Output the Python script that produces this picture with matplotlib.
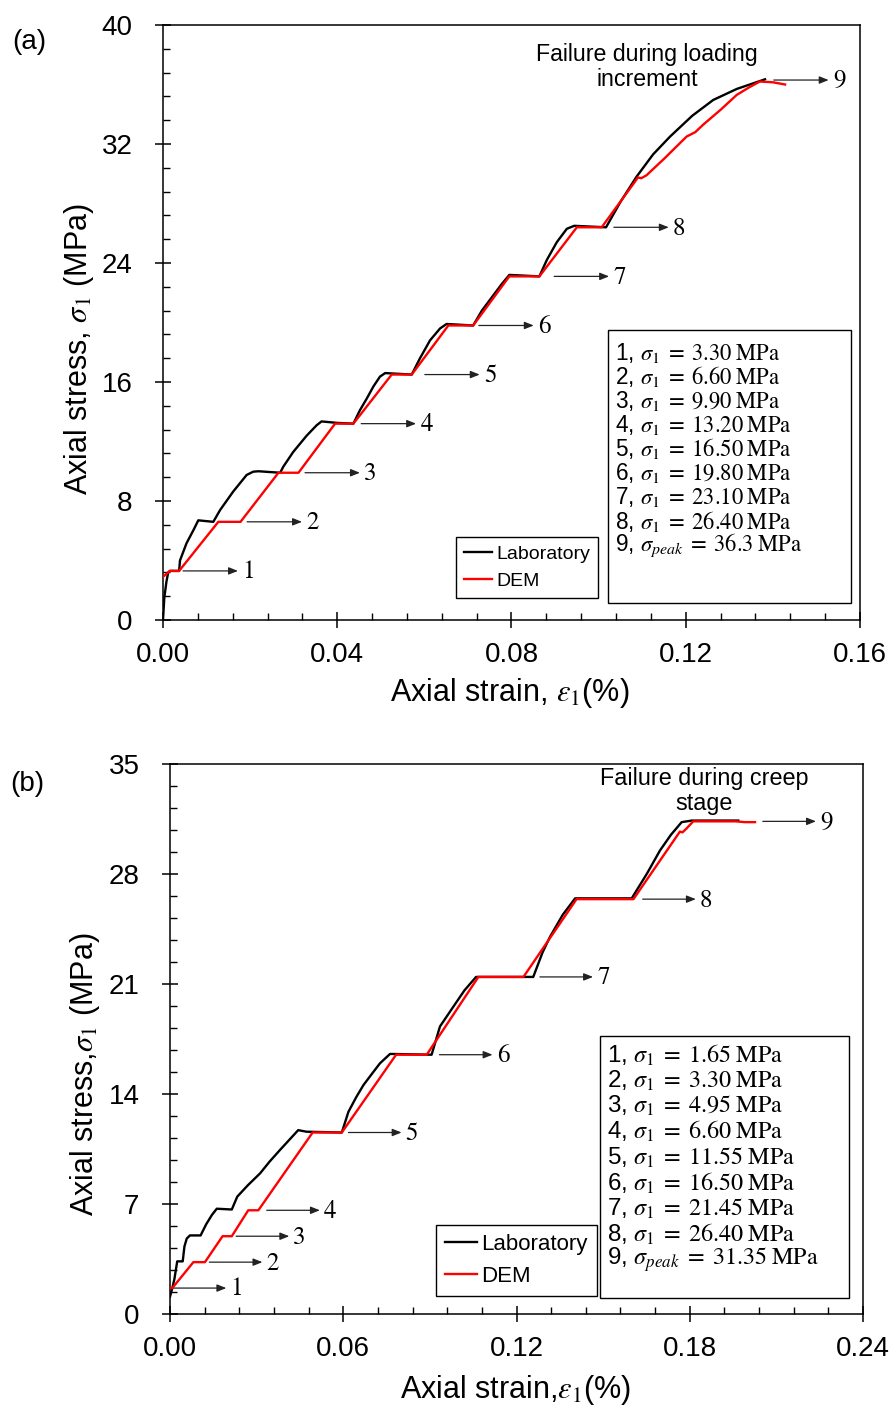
import matplotlib
matplotlib.use("Agg")
import matplotlib.pyplot as plt
from matplotlib.ticker import AutoMinorLocator, MultipleLocator, FormatStrFormatter
from matplotlib.patches import Rectangle

plt.rcParams['font.family'] = ['Liberation Sans', 'DejaVu Sans']
plt.rcParams['mathtext.fontset'] = 'stix'

# ---------------- Panel (a): failure during loading increment ----------------
lab_a_strain = [0.0, 0.0003, 0.0008, 0.0012, 0.0016, 0.0037, 0.0039, 0.0054, 0.0070, 0.0081,
                0.01155, 0.0131, 0.0161, 0.0192, 0.0207, 0.0219, 0.0269, 0.0276, 0.0299,
                0.0330, 0.0353, 0.0364, 0.0400, 0.0437, 0.0452, 0.0468, 0.0483, 0.0498,
                0.0510, 0.0571, 0.0590, 0.0613, 0.0636, 0.0651, 0.0712, 0.0732, 0.0755,
                0.0778, 0.0795, 0.0864, 0.0881, 0.0904, 0.0927, 0.0944, 0.1017, 0.1050,
                0.1087, 0.1125, 0.1164, 0.1215, 0.1263, 0.1317, 0.1382]
lab_a_stress = [0.0, 1.5, 2.6, 3.2, 3.3, 3.3, 4.0, 5.16, 6.05, 6.7,
                6.6, 7.39, 8.63, 9.75, 9.97, 10.0, 9.9, 10.3, 11.3,
                12.4, 13.1, 13.35, 13.25, 13.2, 14.1, 14.9, 15.7, 16.36,
                16.6, 16.5, 17.6, 18.8, 19.6, 19.9, 19.8, 20.8, 21.7,
                22.6, 23.2, 23.1, 24.2, 25.4, 26.3, 26.5, 26.4, 28.1,
                29.8, 31.3, 32.5, 33.9, 34.96, 35.7, 36.35]

dem_a_strain = [0.0, 0.0016, 0.0037, 0.0127, 0.0178, 0.0265, 0.0311, 0.0395, 0.0437,
                0.0525, 0.0571, 0.0655, 0.0712, 0.0795, 0.0864, 0.0950, 0.1007, 0.1083,
                0.1090, 0.1098, 0.1110, 0.1150, 0.1202, 0.1222, 0.1240, 0.1280, 0.1317,
                0.1345, 0.1370, 0.1400, 0.1428]
dem_a_stress = [2.9, 3.3, 3.3, 6.6, 6.6, 9.9, 9.9, 13.2, 13.2,
                16.5, 16.5, 19.8, 19.8, 23.1, 23.1, 26.4, 26.4, 29.45,
                29.75, 29.7, 29.9, 31.0, 32.5, 32.8, 33.3, 34.3, 35.3,
                35.8, 36.2, 36.15, 36.0]

levels_a = [3.30, 6.60, 9.90, 13.20, 16.50, 19.80, 23.10, 26.40, 36.3]
level_text_a = ["3.30", "6.60", "9.90", "13.20", "16.50", "19.80", "23.10", "26.40", "36.3"]

# ---------------- Panel (b): failure during creep stage ----------------
lab_b_strain = [0.0, 0.0008, 0.0015, 0.0025, 0.0044, 0.0050, 0.0058, 0.0069, 0.0106,
                0.0125, 0.0145, 0.0162, 0.0214, 0.0233, 0.0270, 0.0312, 0.0345, 0.0381,
                0.0414, 0.0444, 0.0473, 0.0595, 0.0618, 0.0645, 0.0670, 0.0700, 0.0727,
                0.0762, 0.0906, 0.0935, 0.0981, 0.1020, 0.1060, 0.1258, 0.1290, 0.1316,
                0.1360, 0.1403, 0.1599, 0.1651, 0.1697, 0.1735, 0.1772, 0.1807, 0.1968]
lab_b_stress = [1.1, 1.65, 2.2, 3.35, 3.35, 4.3, 4.8, 5.0, 5.0,
                5.7, 6.3, 6.7, 6.65, 7.47, 8.2, 8.95, 9.7, 10.44,
                11.1, 11.7, 11.6, 11.55, 12.87, 13.8, 14.57, 15.3, 15.95,
                16.55, 16.5, 18.3, 19.55, 20.6, 21.45, 21.45, 23.0, 24.0,
                25.4, 26.45, 26.45, 28.0, 29.5, 30.5, 31.3, 31.4, 31.4]

dem_b_strain = [0.0, 0.0008, 0.0081, 0.0121, 0.0182, 0.0214, 0.0271, 0.0306, 0.0494,
                0.0595, 0.0783, 0.0889, 0.1068, 0.1224, 0.1408, 0.1605, 0.1766, 0.1775,
                0.1789, 0.1812, 0.1960, 0.1990, 0.2026]
dem_b_stress = [1.65, 1.65, 3.3, 3.3, 4.95, 4.95, 6.6, 6.6, 11.55,
                11.55, 16.5, 16.5, 21.45, 21.45, 26.4, 26.4, 30.7, 30.65,
                30.9, 31.35, 31.35, 31.3, 31.3]

levels_b = [1.65, 3.30, 4.95, 6.60, 11.55, 16.50, 21.45, 26.40, 31.35]
level_text_b = ["1.65", "3.30", "4.95", "6.60", "11.55", "16.50", "21.45", "26.40", "31.35"]

# arrow start strains for the numbered stage markers
arrow_start_a = [0.0046, 0.0193, 0.0326, 0.0455, 0.0601, 0.0725, 0.0898, 0.1035, 0.1402]
arrow_start_b = [0.0011, 0.0136, 0.0229, 0.0335, 0.0618, 0.0933, 0.1281, 0.1637, 0.2053]

fig = plt.figure(figsize=(8.92, 14.08), dpi=100)
ax_a = fig.add_axes([163 / 892, 1 - 620 / 1408, 697 / 892, 595 / 1408])
ax_b = fig.add_axes([170 / 892, 1 - 1314 / 1408, 693 / 892, 550 / 1408])


def style_axes(ax, xmax, xstep, ymax, ystep, xfmt):
    ax.set_xlim(0, xmax)
    ax.set_ylim(0, ymax)
    ax.xaxis.set_major_locator(MultipleLocator(xstep))
    ax.yaxis.set_major_locator(MultipleLocator(ystep))
    ax.xaxis.set_major_formatter(FormatStrFormatter(xfmt))
    ax.yaxis.set_major_formatter(FormatStrFormatter('%d'))
    ax.xaxis.set_minor_locator(AutoMinorLocator(5))
    ax.yaxis.set_minor_locator(AutoMinorLocator(5))
    ax.tick_params(which='major', direction='inout', length=12, width=1.1,
                   labelsize=20, top=False, right=False)
    ax.tick_params(axis='x', which='major', pad=10)
    ax.tick_params(axis='y', which='major', pad=16)
    ax.tick_params(which='minor', direction='in', length=5, width=1.0,
                   top=False, right=False)
    for sp in ax.spines.values():
        sp.set_linewidth(1.1)


def draw_panel(ax, lab_x, lab_y, dem_x, dem_y, levels, level_text, starts,
               arrow_len, label_size, box, box_text_size, line_gap, first_line,
               legend_anchor, legend_size, legend_spacing):
    ax.plot(lab_x, lab_y, color='black', lw=1.7, label='Laboratory', zorder=3)
    ax.plot(dem_x, dem_y, color='#ff0000', lw=1.7, label='DEM', zorder=4)

    for i, (x0, lev) in enumerate(zip(starts, levels)):
        ax.annotate('', xy=(x0 + arrow_len, lev), xytext=(x0, lev),
                    arrowprops=dict(arrowstyle='-|>,head_length=0.55,head_width=0.22',
                                    color='#222222', lw=0.9, shrinkA=0, shrinkB=0))
        ax.annotate(str(i + 1), xy=(x0 + arrow_len, lev), xytext=(3, -1),
                    textcoords='offset points', ha='left', va='center',
                    fontsize=label_size, family='STIXGeneral')

    leg = ax.legend(loc='lower right', bbox_to_anchor=legend_anchor,
                    fontsize=legend_size, frameon=True, fancybox=False,
                    edgecolor='black', framealpha=1, handlelength=1.45,
                    handletextpad=0.2, borderpad=0.4, labelspacing=legend_spacing,
                    borderaxespad=0)
    leg.get_frame().set_linewidth(1.0)

    x0, y0, x1, y1 = box
    ax.add_patch(Rectangle((x0, y0), x1 - x0, y1 - y0, transform=ax.transAxes,
                           facecolor='white', edgecolor='black', lw=1.0, zorder=5))
    for i, val in enumerate(level_text):
        sym = r'\sigma_{peak}' if i == len(level_text) - 1 else r'\sigma_1'
        s = f'{i + 1}, ' + r'$' + sym + r'\;=\;' + val + r'\;\mathrm{MPa}$'
        ax.text(x0 + 0.011, first_line - i * line_gap, s, transform=ax.transAxes,
                fontsize=box_text_size, ha='left', va='center', zorder=6)


# ---- panel (a)
style_axes(ax_a, 0.16, 0.04, 40, 8, '%.2f')
draw_panel(ax_a, lab_a_strain, lab_a_stress, dem_a_strain, dem_a_stress,
           levels_a, level_text_a, arrow_start_a, 0.0126, 18,
           (0.638, 0.0286, 0.987, 0.487), 16.3, 0.0404, 0.449,
           (0.624, 0.037), 14, 0.5)
ax_a.set_xlabel(r'Axial strain, $\varepsilon_1$(%)', fontsize=22, va='center')
ax_a.xaxis.set_label_coords(0.498, -0.122)
ax_a.set_ylabel(r'Axial stress, $\sigma_1$ (MPa)', fontsize=22, va='center')
ax_a.yaxis.set_label_coords(-0.120, 0.455)
ax_a.text(0.1111, 37.2, 'Failure during loading\nincrement', fontsize=16.7,
          ha='center', va='center', linespacing=1.12)
fig.text(12 / 892, 1 - 42 / 1408, '(a)', fontsize=20, ha='left', va='center')

# ---- panel (b)
style_axes(ax_b, 0.24, 0.06, 35, 7, '%.2f')
draw_panel(ax_b, lab_b_strain, lab_b_stress, dem_b_strain, dem_b_stress,
           levels_b, level_text_b, arrow_start_b, 0.0184, 18,
           (0.620, 0.030, 0.980, 0.505), 17.4, 0.0466, 0.471,
           (0.616, 0.033), 16, 0.5)
ax_b.set_xlabel(r'Axial strain,$\varepsilon_1$(%)', fontsize=22, va='center')
ax_b.xaxis.set_label_coords(0.499, -0.138)
ax_b.set_ylabel(r'Axial stress,$\sigma_1$ (MPa)', fontsize=22, va='center')
ax_b.yaxis.set_label_coords(-0.123, 0.435)
ax_b.text(0.1849, 33.3, 'Failure during creep\nstage', fontsize=16.8,
          ha='center', va='center', linespacing=1.12)
fig.text(10 / 892, 1 - 784 / 1408, '(b)', fontsize=20, ha='left', va='center')

fig.savefig('out.png', dpi=100)
